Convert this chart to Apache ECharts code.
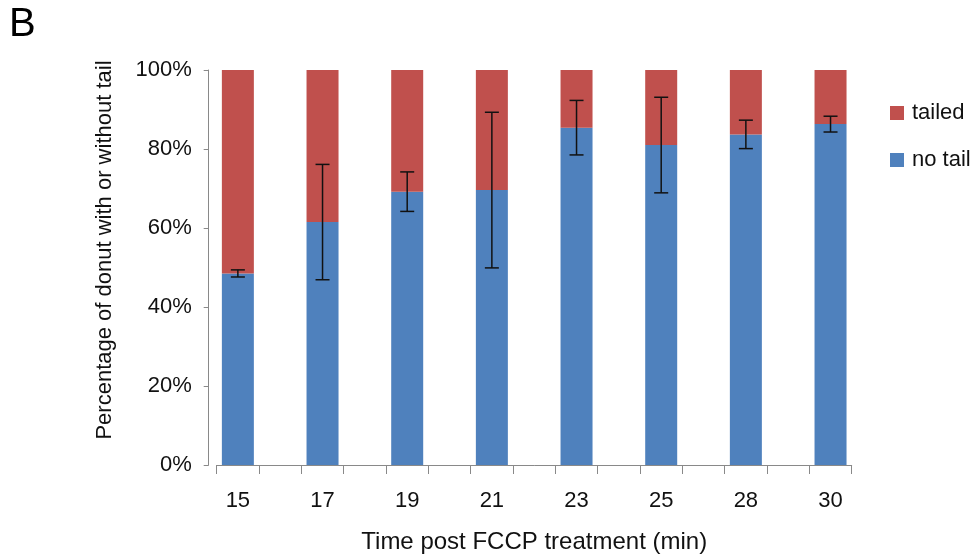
<!DOCTYPE html>
<html>
<head>
<meta charset="utf-8">
<script src="https://cdn.jsdelivr.net/npm/echarts@6/dist/echarts.min.js"></script>
<style>
  html, body { margin: 0; padding: 0; background: #fff; }
  #chart { width: 979px; height: 560px; }
</style>
</head>
<body>
<div id="chart"></div>
<script>
// time points (min)
const times = ["15", "17", "19", "21", "23", "25", "28", "30"];
// percentage of donuts without tail
const noTail = [48.5, 61.5, 69.2, 69.6, 85.4, 81.0, 83.7, 86.3];
// percentage of donuts with tail
const tailed = [51.5, 38.5, 30.8, 30.4, 14.6, 19.0, 16.3, 13.7];
// error (+/-) on the no tail value
const errors = [0.9, 14.6, 5.0, 19.7, 6.9, 12.1, 3.6, 2.0];
const yTicks = [0, 20, 40, 60, 80, 100];

// the original chart keeps an empty slot between each time point
const slots = [];
const slotOf = [];
times.forEach((t, i) => {
  if (i > 0) slots.push("");
  slotOf.push(slots.length);
  slots.push(t);
});
const fill = (arr) => slots.map((s, k) => {
  const i = slotOf.indexOf(k);
  return i < 0 ? "-" : arr[i];
});

const font = "'Liberation Sans', Arial, sans-serif";
const axisColor = "#898989";

const myChart = echarts.init(document.getElementById("chart"));

const option = {
  animation: false,
  textStyle: { fontFamily: font },
  title: {
    text: "B",
    left: 4,
    top: 0,
    textStyle: { fontSize: 40, fontWeight: "normal", color: "#000", fontFamily: font },
  },
  legend: {
    data: ["tailed", "no tail"],
    orient: "vertical",
    left: 885,
    top: 97,
    itemWidth: 14,
    itemHeight: 14,
    itemGap: 25,
    icon: "rect",
    textStyle: { fontSize: 22, color: "#111", fontFamily: font, padding: [0, 0, 0, 3] },
  },
  grid: {
    left: 216.7,
    right: 127.3,
    top: 70,
    bottom: 95,
    containLabel: false,
    outerBoundsMode: "none",
  },
  xAxis: {
    type: "category",
    data: slots,
    name: "Time post FCCP treatment (min)",
    nameLocation: "middle",
    nameGap: 65,
    nameTextStyle: { fontSize: 24, color: "#111", fontFamily: font },
    axisLine: { lineStyle: { color: axisColor, width: 1 } },
    axisTick: { show: true, interval: 0, length: 9, lineStyle: { color: axisColor } },
    axisLabel: { interval: 0, fontSize: 22, color: "#111", margin: 25 },
  },
  yAxis: {
    type: "value",
    min: yTicks[0],
    max: yTicks[yTicks.length - 1],
    interval: 20,
    offset: 8,
    name: "Percentage of donut with or without tail",
    nameLocation: "middle",
    nameGap: 93,
    nameTextStyle: { fontSize: 22, color: "#111", fontFamily: font, padding: [0, 0, 0, 35] },
    axisLine: { show: true, lineStyle: { color: axisColor, width: 1 } },
    axisTick: { show: true, length: 5, lineStyle: { color: axisColor } },
    axisLabel: { fontSize: 22, color: "#111", margin: 17, formatter: "{value}%" },
    splitLine: { show: false },
  },
  series: [
    {
      name: "no tail",
      type: "bar",
      stack: "total",
      barWidth: 32,
      data: fill(noTail),
      itemStyle: { color: "#4F81BD" },
    },
    {
      name: "tailed",
      type: "bar",
      stack: "total",
      barWidth: 32,
      data: fill(tailed),
      itemStyle: { color: "#C0504D" },
    },
    {
      name: "error",
      type: "custom",
      z: 10,
      data: times.map((t, i) => [slotOf[i], noTail[i], errors[i]]),
      renderItem: (params, api) => {
        const x = api.value(0);
        const m = api.value(1);
        const e = api.value(2);
        const top = api.coord([x, m + e]);
        const bot = api.coord([x, m - e]);
        const half = 7;
        const style = { stroke: "#111", lineWidth: 1.5 };
        return {
          type: "group",
          children: [
            { type: "line", shape: { x1: top[0], y1: top[1], x2: bot[0], y2: bot[1] }, style },
            { type: "line", shape: { x1: top[0] - half, y1: top[1], x2: top[0] + half, y2: top[1] }, style },
            { type: "line", shape: { x1: bot[0] - half, y1: bot[1], x2: bot[0] + half, y2: bot[1] }, style },
          ],
        };
      },
    },
  ],
};

myChart.setOption(option);
</script>
</body>
</html>
